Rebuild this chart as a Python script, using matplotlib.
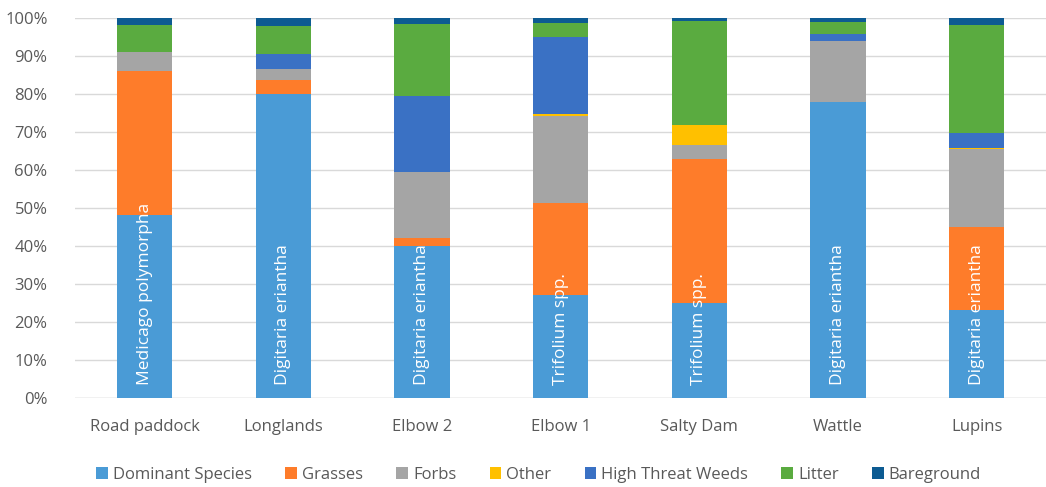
import numpy as np
import matplotlib.pyplot as plt
from matplotlib.ticker import PercentFormatter

# Sites along the x axis and the dominant species named in each bar
sites = ['Road paddock', 'Longlands', 'Elbow 2', 'Elbow 1', 'Salty Dam', 'Wattle', 'Lupins']
dominant_names = ['Medicago polymorpha', 'Digitaria eriantha', 'Digitaria eriantha',
                  'Trifolium spp.', 'Trifolium spp.', 'Digitaria eriantha', 'Digitaria eriantha']

# Cover (%) per category, one value per site
dominant = [48.0, 80.0, 40.0, 27.0, 25.0, 77.7, 23.0]
grasses = [38.0, 3.5, 2.0, 24.2, 37.9, 0.0, 22.0]
forbs = [5.0, 3.0, 17.3, 23.0, 3.5, 16.1, 20.4]
other = [0.0, 0.0, 0.0, 0.5, 5.4, 0.0, 0.2]
high_threat_weeds = [0.0, 4.0, 20.0, 20.1, 0.0, 1.8, 4.0]
litter = [7.0, 7.3, 19.0, 3.8, 27.4, 3.2, 28.4]
bareground = [2.0, 2.2, 1.7, 1.4, 0.8, 1.2, 2.0]

series = [
    ('Dominant Species', dominant, '#4a9bd6'),
    ('Grasses', grasses, '#fe7c2a'),
    ('Forbs', forbs, '#a5a5a5'),
    ('Other', other, '#ffc000'),
    ('High Threat Weeds', high_threat_weeds, '#3a71c4'),
    ('Litter', litter, '#5aab40'),
    ('Bareground', bareground, '#0d5b92'),
]

plt.rcParams['font.family'] = ['Open Sans', 'DejaVu Sans']
text_col = '#595959'
fs = 12

fig = plt.figure(figsize=(10.46, 4.87), dpi=100)
ax = fig.add_axes([0.072, 0.183, 0.928, 0.781])

x = np.arange(len(sites))
bottom = np.zeros(len(sites))
for name, vals, col in series:
    vals = np.array(vals)
    ax.bar(x, vals, 0.4, bottom=bottom, color=col, label=name, zorder=2)
    bottom += vals

# Dominant species names written up the base of each bar
for xi, label in zip(x, dominant_names):
    ax.text(xi, 3.5, label, rotation=90, ha='center', va='bottom',
            color='white', fontsize=12.5, zorder=3)

ax.set_xlim(-0.5, len(sites) - 0.5)
ax.set_ylim(0, 100)
ax.set_yticks(np.arange(0, 101, 10))
ax.yaxis.set_major_formatter(PercentFormatter(decimals=0))
ax.set_xticks(x)
ax.set_xticklabels(sites)
ax.grid(axis='y', color='#d9d9d9', linewidth=1, zorder=0)
ax.tick_params(axis='y', length=0, labelsize=fs, colors=text_col, pad=20)
ax.tick_params(axis='x', length=0, labelsize=fs, colors=text_col, pad=15)
for s in ax.spines.values():
    s.set_visible(False)
ax.axhline(0, color='#d9d9d9', linewidth=1, zorder=1)

leg = fig.legend(loc='lower center', bbox_to_anchor=(0.515, -0.022), ncol=7,
                 frameon=False, fontsize=fs, handlelength=0.7, handleheight=0.7,
                 handletextpad=0.3, columnspacing=2.0)
for t in leg.get_texts():
    t.set_color(text_col)

fig.savefig('out.png', dpi=100)
